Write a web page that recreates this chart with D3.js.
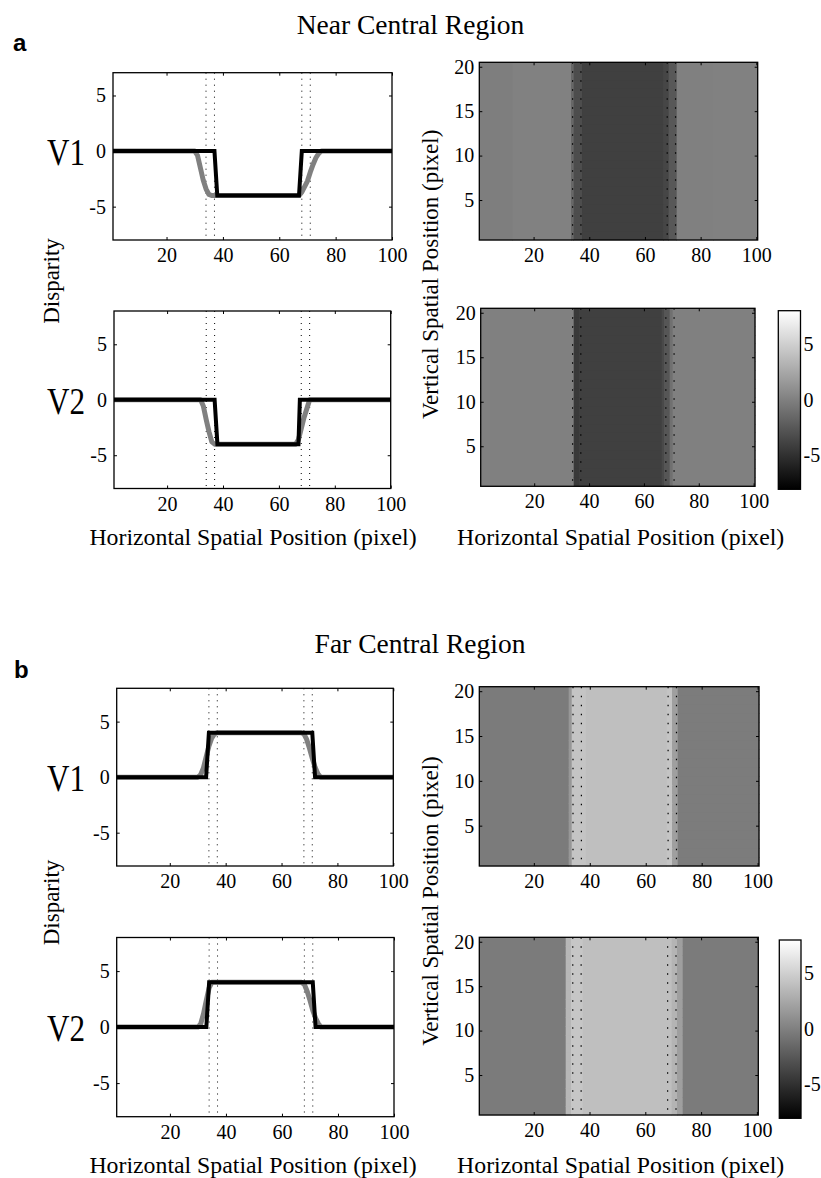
<!DOCTYPE html>
<html>
<head>
<meta charset="utf-8">
<script src="https://cdn.jsdelivr.net/npm/d3@7"></script>
<style>
body { margin: 0; background: #fff; }
text { font-family: "Liberation Serif", "Times New Roman", serif; fill: #000; }
</style>
</head>
<body>
<script>
// tick values
var xTicks = [20, 40, 60, 80, 100];
var yTicksLine = [-5, 0, 5];
var yTicksMap = [5, 10, 15, 20];
var cbTicks = [-5, 0, 5];
var edgeLines = [34, 37, 68, 71];

// disparity profiles [position, disparity]
var nearV1Gray  = [[1,0],[30,0],[31,-0.4],[32,-1.5],[33,-2.6],[34,-3.4],[35,-3.9],[36,-4],[67,-4],[68,-3.7],[69,-3.2],[70,-2.7],[71,-1.9],[72,-1.2],[73,-0.6],[74,-0.2],[75,0],[100,0]];
var nearV1Black = [[1,0],[37,0],[38,-4],[67,-4],[68,0],[100,0]];
var nearV2Gray  = [[1,0],[32,0],[33,-0.6],[34,-1.8],[35,-2.9],[36,-3.8],[37,-4],[66,-4],[67,-3.6],[68,-2.6],[69,-1.6],[70,-0.8],[71,0],[100,0]];
var nearV2Black = [[1,0],[37,0],[38,-4],[67,-4],[67.5,0],[100,0]];
var farV1Gray   = [[1,0],[30,0],[31,0.2],[32,0.8],[33,1.8],[34,2.8],[35,3.5],[36,3.9],[37,4],[67,4],[68,3.9],[69,3.4],[70,2.6],[71,1.7],[72,0.9],[73,0.3],[74,0],[100,0]];
var farV1Black  = [[1,0],[33,0],[34,4],[71,4],[72,0],[100,0]];
var farV2Gray   = [[1,0],[30,0],[31,0.3],[32,1.2],[33,2.4],[34,3.5],[35,4],[67,4],[68,3.8],[69,3.2],[70,2.4],[71,1.5],[72,0.8],[73,0.3],[74,0],[100,0]];
var farV2Black  = [[1,0],[33,0],[34,4],[71,4],[72,0],[100,0]];

// disparity maps: column runs [fromCol, toCol, disparity], same for all 20 rows
var nearV1Map = [[1,12,-0.1],[13,33,0.1],[34,34,-1.5],[35,37,-3.2],[38,66,-4],[67,68,-3.6],[69,71,-2.5],[72,84,0],[85,100,0.1]];
var nearV2Map = [[1,34,0],[35,36,-4.4],[37,66,-4],[67,67,-3.4],[68,69,-2.6],[70,70,-1],[71,100,0]];
var farV1Map  = [[1,32,-0.3],[33,33,1.5],[34,38,4.3],[39,67,4],[68,69,4.3],[70,71,2],[72,100,-0.2]];
var farV2Map  = [[1,31,-0.3],[32,33,3.5],[34,37,4.4],[38,69,4],[70,71,3.3],[72,73,2],[74,100,-0.3]];

var svg = d3.select("body").append("svg")
            .attr("width", 821)
            .attr("height", 1178)

var gray = d3.scaleLinear().domain([-8, 8]).range(["#000", "#fff"]);

var defs = svg.append("defs");
var grad = defs.append("linearGradient")
               .attr("id", "graymap")
               .attr("x1", 0).attr("y1", 1).attr("x2", 0).attr("y2", 0);
grad.selectAll("stop")
    .data([-8, 8])
    .enter()
    .append("stop")
    .attr("offset", (d, i) => i)
    .attr("stop-color", d => gray(d));

function ticksInside(g, x, y, p, xt, yt) {
    var fmt = d => String(d);
    var b = g.append("g").attr("transform", `translate(0,${p.bottom})`)
             .call(d3.axisBottom(x).tickValues(xt).tickSizeInner(-3).tickSizeOuter(0).tickPadding(8).tickFormat(fmt));
    var t = g.append("g").attr("transform", `translate(0,${p.top})`)
             .call(d3.axisTop(x).tickValues(xt).tickSizeInner(-3).tickSizeOuter(0).tickFormat(""));
    var l = g.append("g").attr("transform", `translate(${p.left},0)`)
             .call(d3.axisLeft(y).tickValues(yt).tickSizeInner(-3).tickSizeOuter(0).tickPadding(p.pad).tickFormat(fmt));
    var r = g.append("g").attr("transform", `translate(${p.right},0)`)
             .call(d3.axisRight(y).tickValues(yt).tickSizeInner(-3).tickSizeOuter(0).tickFormat(""));
    [b, t, l, r].forEach(a => {
        a.attr("font-family", "Liberation Serif, serif").attr("font-size", 20);
        a.select(".domain").remove();
        a.selectAll("line").attr("stroke", "#000");
        a.selectAll("text").attr("fill", "#000");
    });
    g.append("rect")
     .attr("x", p.left).attr("y", p.top)
     .attr("width", p.right - p.left).attr("height", p.bottom - p.top)
     .attr("fill", "none").attr("stroke", "#000").attr("stroke-width", 1.3);
}

function linePanel(p, grayData, blackData, name) {
    var x = d3.scaleLinear().domain([1, 100]).range([p.left, p.right]);
    var y = d3.scaleLinear().domain([-8, p.yTop]).range([p.bottom, p.top]);
    var g = svg.append("g");

    g.selectAll(".edge")
     .data(edgeLines)
     .enter()
     .append("line")
     .attr("x1", d => x(d)).attr("x2", d => x(d))
     .attr("y1", p.top).attr("y2", p.bottom)
     .attr("stroke", "#000").attr("stroke-width", 1)
     .attr("stroke-dasharray", "1,5");

    var line = d3.line().x(d => x(d[0])).y(d => y(d[1]));
    g.append("path").attr("d", line(grayData))
     .attr("fill", "none").attr("stroke", "#808080").attr("stroke-width", 5)
     .attr("stroke-linejoin", "round");
    g.append("path").attr("d", line(blackData))
     .attr("fill", "none").attr("stroke", "#000").attr("stroke-width", 4)
     .attr("stroke-linejoin", "miter");

    ticksInside(g, x, y, Object.assign({pad: 7}, p), xTicks, yTicksLine);

    g.append("text")
     .text(name)
     .attr("x", 47)
     .attr("y", y(0) + 14)
     .attr("textLength", 38)
     .attr("lengthAdjust", "spacingAndGlyphs")
     .style("font-size", "38px");
}

function mapPanel(p, runs) {
    var x = d3.scaleLinear().domain([0.5, 100.5]).range([p.left, p.right]);
    var y = d3.scaleLinear().domain([0.5, 20.5]).range([p.bottom, p.top]);
    var g = svg.append("g");

    var cells = [];
    d3.range(1, 21).forEach(r => {
        runs.forEach(s => {
            cells.push({row: r, c0: s[0], c1: s[1], v: s[2]});
        });
    });

    g.selectAll(".cell")
     .data(cells)
     .enter()
     .append("rect")
     .attr("x", d => x(d.c0 - 0.5))
     .attr("width", d => x(d.c1 + 0.5) - x(d.c0 - 0.5))
     .attr("y", d => y(d.row + 0.5))
     .attr("height", d => y(d.row - 0.5) - y(d.row + 0.5))
     .attr("fill", d => gray(d.v))
     .attr("stroke", d => gray(d.v))
     .attr("stroke-width", 0.3)
     .attr("shape-rendering", "crispEdges");

    g.selectAll(".edge")
     .data(edgeLines)
     .enter()
     .append("line")
     .attr("x1", d => x(d)).attr("x2", d => x(d))
     .attr("y1", p.top).attr("y2", p.bottom)
     .attr("stroke", "#000").attr("stroke-width", 1.2)
     .attr("stroke-dasharray", "1.5,7.5");

    ticksInside(g, x, y, Object.assign({pad: 5}, p), xTicks, yTicksMap);
}

function colorbar(p) {
    var y = d3.scaleLinear().domain([-8, 8]).range([p.bottom, p.top]);
    var g = svg.append("g");
    g.append("rect")
     .attr("x", p.left).attr("y", p.top)
     .attr("width", p.right - p.left).attr("height", p.bottom - p.top)
     .attr("fill", "url(#graymap)")
     .attr("stroke", "#000").attr("stroke-width", 1.3);
    g.selectAll(".cbt")
     .data(cbTicks)
     .enter()
     .append("text")
     .text(d => String(d))
     .attr("x", p.right + 3)
     .attr("y", d => y(d))
     .attr("dy", "0.33em")
     .style("font-size", "20px");
}

function label(txt, x, y, size, rotate, anchor) {
    var t = svg.append("text")
               .text(txt)
               .attr("text-anchor", anchor || "middle")
               .style("font-size", size + "px");
    if (rotate) {
        t.attr("transform", `translate(${x},${y}) rotate(-90)`);
    } else {
        t.attr("x", x).attr("y", y);
    }
    return t;
}

// section a
label("Near Central Region", 410.5, 33.5, 27.5);
svg.append("text").text("a").attr("x", 13).attr("y", 50.7)
   .style("font-family", "Liberation Sans").style("font-weight", "bold").style("font-size", "24px");

linePanel({left: 113, right: 392, top: 72.7, bottom: 240, yTop: 7.05}, nearV1Gray, nearV1Black, "V1");
linePanel({left: 114, right: 390.7, top: 311, bottom: 488.5, yTop: 8}, nearV2Gray, nearV2Black, "V2");
mapPanel({left: 479.3, right: 757.7, top: 62.3, bottom: 240}, nearV1Map);
mapPanel({left: 480.7, right: 755, top: 308.3, bottom: 486.3}, nearV2Map);
colorbar({left: 778.3, right: 800.5, top: 310.7, bottom: 489.3});

label("Disparity", 59, 281, 23, true);
label("Vertical Spatial Position (pixel)", 438, 274.3, 23, true);
label("Horizontal Spatial Position (pixel)", 253, 545, 23.8);
label("Horizontal Spatial Position (pixel)", 620.7, 545, 23.8);

// section b
label("Far Central Region", 420, 653, 27.5);
svg.append("text").text("b").attr("x", 14).attr("y", 678)
   .style("font-family", "Liberation Sans").style("font-weight", "bold").style("font-size", "24px");

linePanel({left: 116.7, right: 393.3, top: 688.3, bottom: 866, yTop: 8}, farV1Gray, farV1Black, "V1");
linePanel({left: 116.7, right: 394, top: 937.5, bottom: 1116.7, yTop: 8}, farV2Gray, farV2Black, "V2");
mapPanel({left: 479.3, right: 759, top: 686.7, bottom: 866}, farV1Map);
mapPanel({left: 479.3, right: 758.3, top: 937.3, bottom: 1115}, farV2Map);
colorbar({left: 779.3, right: 801, top: 940, bottom: 1118.3});

label("Disparity", 59, 902.5, 23, true);
label("Vertical Spatial Position (pixel)", 438, 901, 23, true);
label("Horizontal Spatial Position (pixel)", 253, 1173.3, 23.8);
label("Horizontal Spatial Position (pixel)", 620.7, 1173.3, 23.8);
</script>
</body>
</html>
